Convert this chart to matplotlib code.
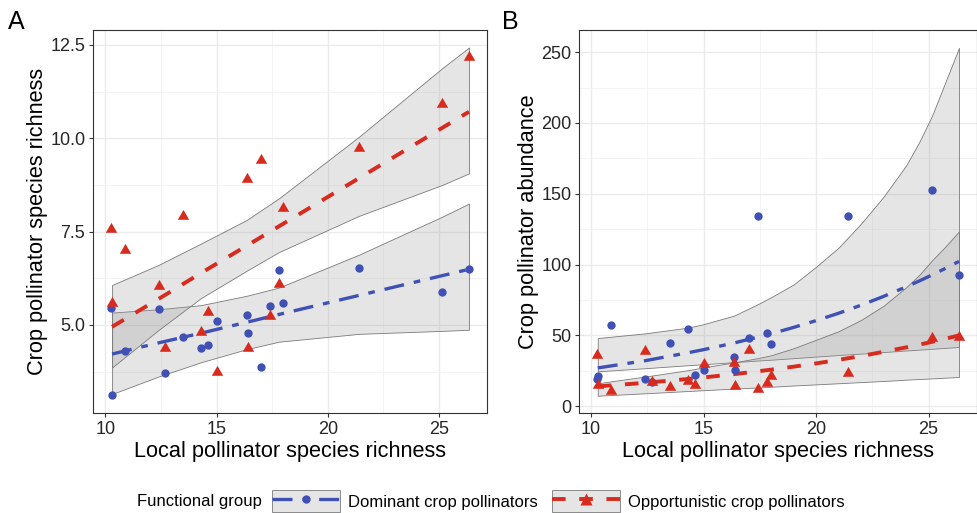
import numpy as np
import matplotlib.pyplot as plt
from matplotlib.patches import Patch
from matplotlib.lines import Line2D
from matplotlib.ticker import FixedLocator

plt.rcParams['font.family'] = ['Liberation Sans', 'DejaVu Sans']

# local pollinator species richness at each site (shared by all series)
richness = [10.25, 10.3, 10.9, 12.4, 12.7, 13.5, 14.3, 14.6, 15.0, 16.35,
            16.4, 17.0, 17.4, 17.8, 18.0, 21.4, 25.15, 26.35]

# A: crop pollinator species richness
rich_dom = [5.45, 3.12, 4.31, 5.42, 3.72, 4.67, 4.38, 4.46, 5.11, 5.26,
            4.77, 3.87, 5.50, 6.47, 5.60, 6.52, 5.88, 6.49]
rich_opp = [7.56, 5.60, 7.00, 6.05, 4.37, 7.92, 4.81, 5.35, 3.74, 8.90,
            4.38, 9.43, 5.23, 6.10, 8.14, 9.73, 10.93, 12.19]

# B: crop pollinator abundance
abund_dom = [19.3, 21.2, 57.3, 19.5, 17.5, 44.5, 54.8, 22.4, 25.9, 34.8,
             25.4, 48.2, 134.0, 51.5, 43.7, 134.0, 152.6, 92.4]
abund_opp = [36.2, 15.3, 11.1, 38.8, 17.2, 13.4, 17.6, 15.3, 29.6, 30.6,
             14.1, 40.0, 12.3, 16.5, 21.2, 23.5, 48.2, 48.9]

# model predictions with 95% CI
pred_x_a = [10.3, 12.4, 14.3, 16.35, 17.8, 21.4, 25.15, 26.35]
fit_dom_a = [4.22, 4.52, 4.78, 5.07, 5.28, 5.79, 6.32, 6.49]
lo_dom_a = [3.15, 3.62, 4.00, 4.35, 4.55, 4.76, 4.84, 4.87]
hi_dom_a = [5.33, 5.42, 5.53, 5.78, 6.00, 6.88, 7.90, 8.25]
fit_opp_a = [4.95, 5.70, 6.39, 7.12, 7.64, 8.93, 10.28, 10.71]
lo_opp_a = [3.86, 4.87, 5.72, 6.45, 6.95, 7.92, 8.75, 9.06]
hi_opp_a = [6.07, 6.61, 7.18, 7.81, 8.39, 10.04, 11.88, 12.43]

pred_x_b = [10.3, 12.4, 14.3, 15.0, 16.35, 17.4, 18.0, 19.0, 20.0, 21.0,
            22.0, 23.0, 24.0, 24.6, 25.15, 25.7, 26.35]
fit_dom_b = [27.1, 32.2, 37.8, 40.0, 44.7, 48.8, 51.2, 55.7, 60.5, 65.7,
             71.4, 77.6, 84.3, 88.6, 92.7, 97.0, 102.3]
lo_dom_b = [24.7, 26.9, 29.0, 29.7, 31.2, 32.3, 32.9, 34.0, 35.1, 36.2,
            37.2, 38.3, 39.4, 40.0, 40.6, 41.2, 41.9]
hi_dom_b = [48.2, 51.5, 55.5, 58.0, 64.0, 72.0, 77.0, 86.0, 98.5, 112.0,
            129.0, 148.0, 170.0, 187.0, 205.0, 227.0, 253.0]
fit_opp_b = [14.1, 16.6, 19.3, 20.4, 22.7, 24.7, 25.9, 28.0, 30.3, 32.8,
             35.5, 38.5, 41.6, 43.6, 45.5, 47.5, 50.1]
lo_opp_b = [7.5, 9.2, 10.8, 11.4, 12.5, 13.3, 13.8, 14.7, 15.5, 16.3,
            17.1, 17.9, 18.8, 19.3, 19.7, 20.2, 20.7]
hi_opp_b = [16.3, 21.0, 25.5, 27.5, 31.0, 34.0, 36.0, 41.0, 47.0, 53.0,
            61.0, 71.0, 84.0, 93.0, 103.0, 112.0, 123.4]

blue = '#3F51B5'
red = '#D92A1E'
band_fill = (0.6, 0.6, 0.6, 0.25)
band_edge = '#7a7a7a'
dom_ls = (0, (6, 3, 2, 3))
opp_ls = (0, (3.5, 3.5))

W, H = 977, 513
fig = plt.figure(figsize=(W / 100, H / 100), dpi=100)
axA = fig.add_axes([93 / W, 1 - 413 / H, 394 / W, 383 / H])
axB = fig.add_axes([579.3 / W, 1 - 413 / H, 397.7 / W, 383 / H])


def draw_panel(ax, y_dom, y_opp, px, fd, ld, hd, fo, lo, ho):
    ax.fill_between(px, ld, hd, facecolor=band_fill, edgecolor=band_edge, lw=0.6, zorder=2)
    ax.fill_between(px, lo, ho, facecolor=band_fill, edgecolor=band_edge, lw=0.6, zorder=2)
    ax.plot(px, fd, color=blue, lw=2.4, ls=dom_ls, zorder=3)
    ax.plot(px, fo, color=red, lw=2.8, ls=opp_ls, zorder=3)
    ax.plot(richness, y_dom, 'o', color=blue, ms=6, mec='none', zorder=4)
    tri = [(0, 1), (-0.866, -0.5), (0.866, -0.5)]
    ax.plot(richness, y_opp, ls='none', marker=tri, color=red, ms=9.5, mec='none', zorder=4)

    ax.set_xticks([10, 15, 20, 25])
    ax.xaxis.set_minor_locator(FixedLocator([12.5, 17.5, 22.5]))
    ax.grid(True, which='major', color='#ebebeb', lw=1.0, zorder=0)
    ax.grid(True, which='minor', color='#f3f3f3', lw=0.6, zorder=0)
    ax.set_axisbelow(True)
    ax.tick_params(which='major', labelsize=13, length=3, width=0.8, pad=2.5,
                   color='#333333', labelcolor='#262626')
    ax.tick_params(which='minor', length=0)
    for s in ax.spines.values():
        s.set_color('#333333')
        s.set_linewidth(0.8)
    ax.set_xlabel('Local pollinator species richness', fontsize=15.7)
    ax.xaxis.label.set_va('baseline')
    ax.xaxis.set_label_coords(0.5, -(457.3 - 413) / 383)


draw_panel(axA, rich_dom, rich_opp, pred_x_a, fit_dom_a, lo_dom_a, hi_dom_a,
           fit_opp_a, lo_opp_a, hi_opp_a)
axA.set_xlim(9.44, 27.16)
axA.set_ylim(2.64, 12.9)
axA.set_yticks([5, 7.5, 10, 12.5])
axA.set_yticklabels(['5.0', '7.5', '10.0', '12.5'])
axA.yaxis.set_minor_locator(FixedLocator([3.75, 6.25, 8.75, 11.25]))
axA.set_ylabel('Crop pollinator species richness', fontsize=15.7)
axA.yaxis.label.set_va('baseline')
axA.yaxis.set_label_coords(-(93 - 43.3) / 394, 0.5)

draw_panel(axB, abund_dom, abund_opp, pred_x_b, fit_dom_b, lo_dom_b, hi_dom_b,
           fit_opp_b, lo_opp_b, hi_opp_b)
axB.set_xlim(9.48, 27.15)
axB.set_ylim(-4.7, 265.6)
axB.set_yticks([0, 50, 100, 150, 200, 250])
axB.yaxis.set_minor_locator(FixedLocator([25, 75, 125, 175, 225]))
axB.set_ylabel('Crop pollinator abundance', fontsize=15.7)
axB.yaxis.label.set_va('baseline')
axB.yaxis.set_label_coords(-(579.3 - 534) / 397.7, 0.5)

fig.text(8 / W, 1 - 29 / H, 'A', fontsize=18, va='baseline')
fig.text(501.5 / W, 1 - 29 / H, 'B', fontsize=18, va='baseline')

# legend along the bottom
handles = [
    (Patch(facecolor=band_fill, edgecolor=band_edge, lw=0.6),
     Line2D([], [], color=blue, lw=2.4, ls=dom_ls, marker='o', ms=6, mec='none')),
    (Patch(facecolor=band_fill, edgecolor=band_edge, lw=0.6),
     Line2D([], [], color=red, lw=2.8, ls=opp_ls, marker='^', ms=8, mec='none')),
]
fig.legend(handles, ['Dominant crop pollinators', 'Opportunistic crop pollinators'],
           loc='lower left', bbox_to_anchor=(271.7 / W, 1 / H), ncol=2, frameon=False,
           fontsize=12, handlelength=4.08, handleheight=1.61, handletextpad=0.48,
           columnspacing=0.87, borderpad=0, borderaxespad=0, numpoints=1)
fig.text(137.3 / W, 1 - 501.5 / H, 'Functional group', fontsize=12, va='center')

fig.savefig('out.png', dpi=100)
